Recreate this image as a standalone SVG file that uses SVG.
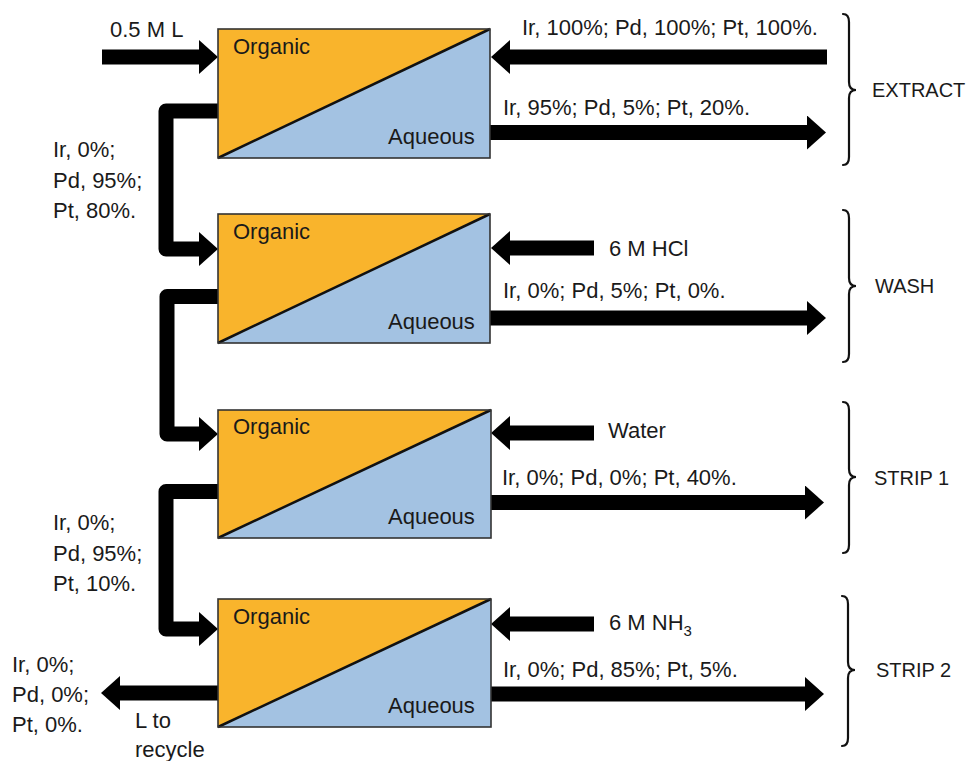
<svg xmlns="http://www.w3.org/2000/svg" width="968" height="761" viewBox="0 0 968 761">
<style>
text{font-family:"Liberation Sans",Arial,sans-serif;font-size:22px;fill:#1a1a1a}
text.stage{font-size:20px}
.org{fill:#F9B42C}
.aq{fill:#A3C2E2}
.frame{fill:none;stroke:#333;stroke-width:1.6}
.diag{stroke:#111;stroke-width:2.5}
.flow{fill:none;stroke:#000;stroke-width:15;stroke-linejoin:round;marker-end:url(#head)}
.brace{fill:none;stroke:#111;stroke-width:2.2;stroke-linecap:round}
</style>
<defs>
<marker id="head" markerUnits="userSpaceOnUse" viewBox="0 0 19 34" markerWidth="19" markerHeight="34" refX="0" refY="17" orient="auto">
<path d="M0,0 L19,17 L0,34 Z" fill="#000"/>
</marker>
</defs>
<rect width="968" height="761" fill="#fff"/>

<g id="connectors">
<path class="flow" d="M102,57 H199"/>
<path class="flow" d="M827,57 H510"/>
<path class="flow" d="M490,132.5 H807"/>
<path class="flow" d="M594,248 H510"/>
<path class="flow" d="M490,318 H807"/>
<path class="flow" d="M594,433 H510"/>
<path class="flow" d="M490,502.5 H805"/>
<path class="flow" d="M594,624 H510"/>
<path class="flow" d="M490,694 H805"/>
<path class="flow" d="M218,111 H166 V249 H199"/>
<path class="flow" d="M218,296.5 H167 V434 H199"/>
<path class="flow" d="M218,491.5 H166 V629 H199"/>
<path class="flow" d="M218,693 H120"/>
</g>

<g id="stage-extract">
<polygon class="org" points="218,29 490,29 218,158"/>
<polygon class="aq" points="490,29 490,158 218,158"/>
<line class="diag" x1="218" y1="158" x2="490" y2="29"/>
<rect class="frame" x="218" y="29" width="272" height="129"/>
<text x="233" y="54">Organic</text>
<text x="388" y="144">Aqueous</text>
</g>

<g id="stage-wash">
<polygon class="org" points="218,214 490,214 218,343"/>
<polygon class="aq" points="490,214 490,343 218,343"/>
<line class="diag" x1="218" y1="343" x2="490" y2="214"/>
<rect class="frame" x="218" y="214" width="272" height="129"/>
<text x="233" y="239">Organic</text>
<text x="388" y="329">Aqueous</text>
</g>

<g id="stage-strip1">
<polygon class="org" points="218,410 491,410 218,538"/>
<polygon class="aq" points="491,410 491,538 218,538"/>
<line class="diag" x1="218" y1="538" x2="491" y2="410"/>
<rect class="frame" x="218" y="410" width="273" height="128"/>
<text x="233" y="434">Organic</text>
<text x="388" y="524">Aqueous</text>
</g>

<g id="stage-strip2">
<polygon class="org" points="218,599 491,599 218,727"/>
<polygon class="aq" points="491,599 491,727 218,727"/>
<line class="diag" x1="218" y1="727" x2="491" y2="599"/>
<rect class="frame" x="218" y="599" width="273" height="128"/>
<text x="233" y="624">Organic</text>
<text x="388" y="713">Aqueous</text>
</g>

<g id="labels">
<text x="110" y="37">0.5 M L</text>
<text x="522" y="35">Ir, 100%; Pd, 100%; Pt, 100%.</text>
<text x="503" y="115">Ir, 95%; Pd, 5%; Pt, 20%.</text>
<text x="609" y="256">6 M HCl</text>
<text x="503" y="298">Ir, 0%; Pd, 5%; Pt, 0%.</text>
<text x="608" y="438">Water</text>
<text x="502" y="485">Ir, 0%; Pd, 0%; Pt, 40%.</text>
<text x="609" y="630">6 M NH<tspan font-size="15" dy="6">3</tspan></text>
<text x="503" y="677">Ir, 0%; Pd, 85%; Pt, 5%.</text>
<text x="53" y="157">Ir, 0%;</text>
<text x="53" y="188">Pd, 95%;</text>
<text x="53" y="218">Pt, 80%.</text>
<text x="53" y="530">Ir, 0%;</text>
<text x="53" y="561">Pd, 95%;</text>
<text x="53" y="591">Pt, 10%.</text>
<text x="12" y="672">Ir, 0%;</text>
<text x="12" y="702">Pd, 0%;</text>
<text x="12" y="732">Pt, 0%.</text>
<text x="135" y="728">L to</text>
<text x="135" y="757">recycle</text>
</g>

<g id="braces">
<path class="brace" d="M843,14 Q849,14 849,22 V82 Q849,90 856,90 Q849,90 849,98 V157 Q849,165 843,165"/>
<text class="stage" x="872" y="97" font-size="19.5">EXTRACT</text>
<path class="brace" d="M843,210 Q849,210 849,218 V278 Q849,286 856,286 Q849,286 849,294 V354 Q849,362 843,362"/>
<text class="stage" x="875" y="293">WASH</text>
<path class="brace" d="M843,402 Q849,402 849,410 V469 Q849,477 856,477 Q849,477 849,485 V545 Q849,553 843,553"/>
<text class="stage" x="874" y="485">STRIP 1</text>
<path class="brace" d="M842,596 Q848,596 848,604 V662 Q848,670 855,670 Q848,670 848,678 V738 Q848,746 842,746"/>
<text class="stage" x="876" y="677">STRIP 2</text>
</g>
</svg>
